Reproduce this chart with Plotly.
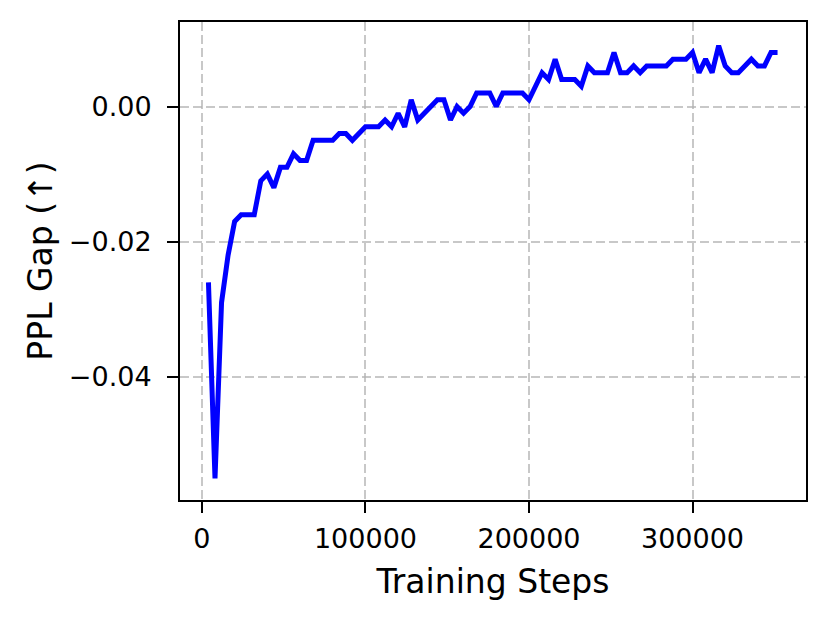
import plotly.graph_objects as go

# training steps (every 4000)
steps = list(range(4000, 352001, 4000))

# PPL gap in thousandths
gap_milli = [
    -26, -55, -29, -22, -17, -16, -16, -16, -11, -10,
    -12, -9, -9, -7, -8, -8, -5, -5, -5, -5,
    -4, -4, -5, -4, -3, -3, -3, -2, -3, -1,
    -3, 1, -2, -1, 0, 1, 1, -2, 0, -1,
    0, 2, 2, 2, 0, 2, 2, 2, 2, 1,
    3, 5, 4, 7, 4, 4, 4, 3, 6, 5,
    5, 5, 8, 5, 5, 6, 5, 6, 6, 6,
    6, 7, 7, 7, 8, 5, 7, 5, 9, 6,
    5, 5, 6, 7, 6, 6, 8, 8,
]
gap = [v / 1000 for v in gap_milli]

x_ticks = [0, 100000, 200000, 300000]
y_ticks = [-0.04, -0.02, 0.0]
y_tick_text = ["\u22120.04", "\u22120.02", "0.00"]

FONT = "DejaVu Sans, sans-serif"
GRID = "rgba(176,176,176,0.7)"

fig = go.Figure()
fig.add_trace(go.Scatter(
    x=steps, y=gap, mode="lines",
    line=dict(color="#0000ff", width=5),
    showlegend=False,
))

axis_common = dict(
    showline=True, linecolor="black", linewidth=2, mirror=True,
    ticks="outside", ticklen=11, tickwidth=2, tickcolor="black",
    showgrid=True, gridcolor=GRID, griddash="9px,4px", gridwidth=2,
    zeroline=False,
    tickfont=dict(family=FONT, size=27, color="black"),
)

fig.update_xaxes(
    range=[-13400, 369400],
    tickvals=x_ticks, ticktext=[str(v) for v in x_ticks],
    ticklabelstandoff=3,
    title=dict(text="Training Steps", font=dict(family=FONT, size=33, color="black"), standoff=16),
    **axis_common,
)
fig.update_yaxes(
    range=[-0.0582, 0.0125],
    tickvals=y_ticks, ticktext=y_tick_text,
    ticklabelstandoff=10,
    title=dict(text="PPL Gap (\u2191)", font=dict(family=FONT, size=33, color="black"), standoff=6),
    **axis_common,
)

# page body adds an 8px margin, so the figure is drawn 8px smaller
fig.update_layout(
    width=822, height=617,
    margin=dict(l=172, r=24, t=14, b=125),
    plot_bgcolor="white", paper_bgcolor="white",
    font=dict(family=FONT),
)

fig.write_html("out.html")
